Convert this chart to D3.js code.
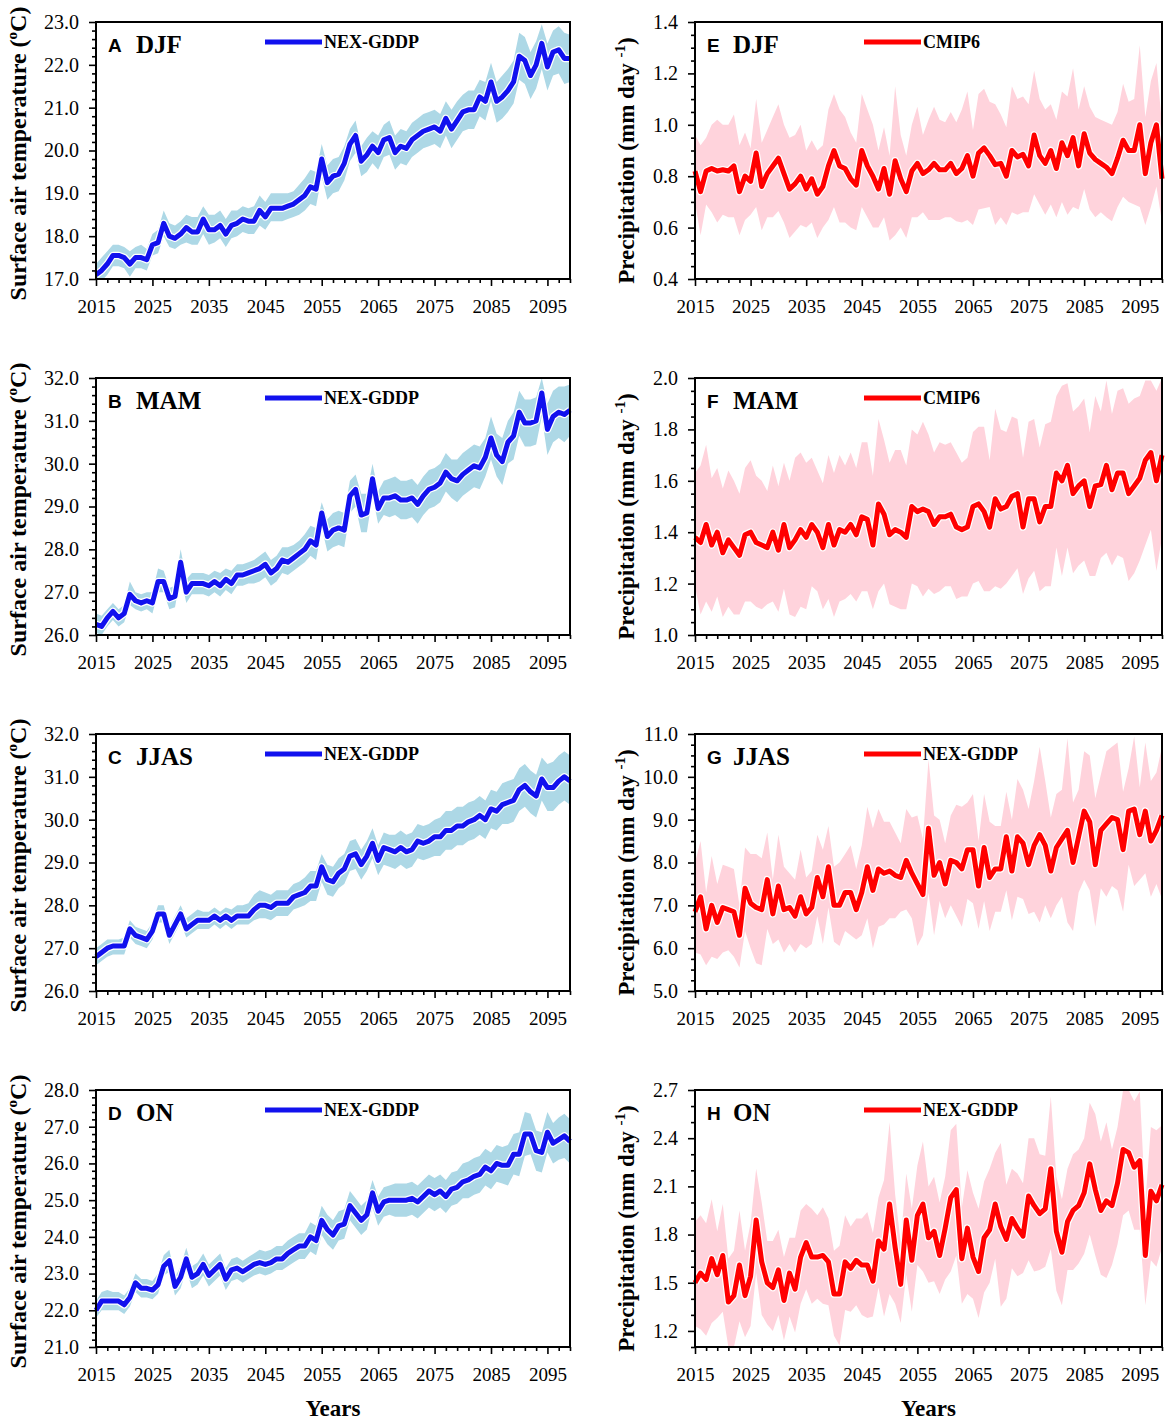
<!DOCTYPE html>
<html>
<head>
<meta charset="utf-8">
<script src="https://cdn.jsdelivr.net/npm/d3@7"></script>
<style>
body { margin: 0; background: #fff; }
svg text { font-family: "Liberation Serif", "Times New Roman", serif; fill: #000; }
</style>
</head>
<body>
<svg id="chart" width="1170" height="1420"></svg>
<script>
// years 2015..2099, one value per year
var years = d3.range(2015, 2100);
var yearTicks = [2015, 2025, 2035, 2045, 2055, 2065, 2075, 2085, 2095];

// ---- surface air temperature (NEX-GDDP), degC ----
var djfTas = [17.1, 17.2, 17.35, 17.55, 17.55, 17.5, 17.35, 17.5, 17.5, 17.45,
  17.8, 17.85, 18.3, 18.0, 17.95, 18.05, 18.2, 18.1, 18.1, 18.4,
  18.15, 18.15, 18.25, 18.05, 18.25, 18.3, 18.4, 18.35, 18.35, 18.6,
  18.45, 18.65, 18.65, 18.65, 18.7, 18.75, 18.85, 18.95, 19.15, 19.1,
  19.8, 19.25, 19.4, 19.45, 19.7, 20.15, 20.35, 19.75, 19.9, 20.1,
  19.95, 20.25, 20.3, 19.95, 20.1, 20.05, 20.25, 20.35, 20.45, 20.5,
  20.55, 20.45, 20.75, 20.5, 20.7, 20.9, 20.95, 20.95, 21.25, 21.15,
  21.6, 21.15, 21.25, 21.4, 21.6, 22.2, 22.1, 21.75, 22.0, 22.5,
  21.95, 22.3, 22.35, 22.15, 22.15];
var djfTasHi = [17.35, 17.5, 17.65, 17.8, 17.8, 17.75, 17.65, 17.75, 17.8, 17.7,
  18.05, 18.15, 18.6, 18.3, 18.25, 18.35, 18.5, 18.45, 18.45, 18.7,
  18.5, 18.5, 18.6, 18.4, 18.6, 18.6, 18.7, 18.65, 18.7, 18.95,
  18.8, 19.0, 19.0, 19.0, 19.0, 19.05, 19.2, 19.35, 19.55, 19.5,
  20.15, 19.65, 19.8, 19.85, 20.1, 20.5, 20.7, 20.1, 20.3, 20.45,
  20.35, 20.6, 20.7, 20.35, 20.5, 20.45, 20.65, 20.75, 20.85, 20.9,
  20.95, 20.85, 21.15, 20.95, 21.15, 21.3, 21.4, 21.4, 21.65, 21.6,
  22.05, 21.6, 21.75, 21.9, 22.1, 22.75, 22.65, 22.3, 22.55, 22.95,
  22.5, 22.8, 22.9, 22.75, 22.7];
var djfTasLo = [16.9, 16.95, 17.1, 17.3, 17.3, 17.25, 17.05, 17.25, 17.25, 17.2,
  17.55, 17.6, 18.0, 17.75, 17.7, 17.8, 17.85, 17.8, 17.8, 18.05,
  17.8, 17.85, 17.95, 17.75, 17.95, 18.0, 18.1, 18.05, 18.05, 18.25,
  18.15, 18.35, 18.35, 18.35, 18.4, 18.45, 18.5, 18.6, 18.75, 18.7,
  19.4, 18.85, 19.0, 19.05, 19.3, 19.75, 19.95, 19.4, 19.5, 19.7,
  19.55, 19.85, 19.9, 19.55, 19.7, 19.65, 19.85, 19.95, 20.05, 20.1,
  20.15, 20.05, 20.35, 20.05, 20.25, 20.45, 20.5, 20.5, 20.8, 20.7,
  21.15, 20.65, 20.75, 20.9, 21.1, 21.65, 21.55, 21.2, 21.45, 21.9,
  21.4, 21.75, 21.8, 21.55, 21.6];

var mamTas = [26.25, 26.2, 26.4, 26.55, 26.4, 26.5, 26.95, 26.8, 26.75, 26.8,
  26.75, 27.25, 27.25, 26.85, 26.9, 27.7, 27.0, 27.2, 27.2, 27.2,
  27.15, 27.25, 27.15, 27.3, 27.2, 27.4, 27.4, 27.45, 27.5, 27.55,
  27.65, 27.45, 27.55, 27.75, 27.7, 27.8, 27.9, 28.0, 28.2, 28.1,
  28.85, 28.3, 28.45, 28.5, 28.45, 29.25, 29.4, 28.8, 28.85, 29.65,
  28.95, 29.2, 29.2, 29.25, 29.15, 29.15, 29.2, 29.05, 29.25, 29.4,
  29.45, 29.55, 29.8, 29.65, 29.6, 29.75, 29.85, 29.95, 29.9, 30.15,
  30.6, 30.2, 30.05, 30.5, 30.65, 31.2, 30.95, 30.95, 31.0, 31.65,
  30.8, 31.1, 31.2, 31.15, 31.25];
var mamTasHi = [26.5, 26.45, 26.6, 26.75, 26.6, 26.7, 27.25, 27.0, 26.95, 27.0,
  27.0, 27.55, 27.5, 27.1, 27.15, 28.0, 27.3, 27.45, 27.45, 27.45,
  27.4, 27.5, 27.45, 27.55, 27.5, 27.65, 27.65, 27.7, 27.75, 27.85,
  27.95, 27.75, 27.85, 28.05, 28.05, 28.1, 28.2, 28.35, 28.55, 28.5,
  29.1, 28.7, 28.85, 28.9, 28.85, 29.6, 29.75, 29.3, 29.3, 30.0,
  29.35, 29.6, 29.65, 29.7, 29.6, 29.6, 29.65, 29.5, 29.7, 29.85,
  29.9, 30.0, 30.25, 30.1, 30.1, 30.25, 30.35, 30.45, 30.4, 30.6,
  31.1, 30.7, 30.6, 31.0, 31.2, 31.7, 31.5, 31.5, 31.55, 32.0,
  31.4, 31.7, 31.8, 31.8, 31.85];
var mamTasLo = [26.05, 26.0, 26.2, 26.35, 26.2, 26.3, 26.7, 26.6, 26.55, 26.6,
  26.5, 27.0, 27.0, 26.6, 26.65, 27.4, 26.75, 26.95, 26.95, 26.95,
  26.9, 27.0, 26.9, 27.05, 26.95, 27.15, 27.15, 27.2, 27.2, 27.25,
  27.35, 27.15, 27.25, 27.45, 27.4, 27.5, 27.6, 27.7, 27.85, 27.75,
  28.5, 27.95, 28.05, 28.1, 28.05, 28.85, 29.0, 28.4, 28.4, 29.25,
  28.6, 28.8, 28.75, 28.8, 28.7, 28.7, 28.75, 28.6, 28.8, 28.95,
  29.0, 29.1, 29.35, 29.2, 29.1, 29.25, 29.35, 29.45, 29.4, 29.7,
  30.1, 29.7, 29.5, 30.0, 30.1, 30.65, 30.4, 30.4, 30.45, 31.1,
  30.2, 30.5, 30.6, 30.5, 30.65];

var jjasTas = [26.8, 26.9, 27.0, 27.05, 27.05, 27.05, 27.45, 27.3, 27.25, 27.2,
  27.4, 27.8, 27.8, 27.3, 27.55, 27.8, 27.45, 27.55, 27.65, 27.65,
  27.65, 27.75, 27.65, 27.75, 27.65, 27.75, 27.75, 27.75, 27.9, 28.0,
  28.0, 27.95, 28.05, 28.05, 28.05, 28.2, 28.25, 28.3, 28.45, 28.45,
  28.9, 28.6, 28.55, 28.75, 28.85, 29.15, 29.2, 28.95, 29.15, 29.45,
  29.05, 29.35, 29.3, 29.25, 29.35, 29.25, 29.3, 29.5, 29.45, 29.5,
  29.6, 29.6, 29.75, 29.75, 29.85, 29.85, 29.95, 30.0, 30.1, 30.0,
  30.25, 30.2, 30.35, 30.4, 30.45, 30.7, 30.8, 30.65, 30.55, 30.95,
  30.75, 30.75, 30.9, 31.0, 30.9];
var jjasTasHi = [27.0, 27.1, 27.2, 27.2, 27.2, 27.25, 27.65, 27.5, 27.45, 27.4,
  27.6, 28.0, 28.0, 27.5, 27.75, 28.0, 27.7, 27.8, 27.9, 27.85,
  27.85, 27.95, 27.85, 27.95, 27.9, 28.0, 28.0, 28.05, 28.25, 28.35,
  28.3, 28.25, 28.35, 28.35, 28.35, 28.5, 28.55, 28.65, 28.8, 28.8,
  29.2, 28.95, 28.9, 29.1, 29.2, 29.5, 29.55, 29.3, 29.5, 29.8,
  29.4, 29.7, 29.65, 29.65, 29.75, 29.65, 29.7, 29.9, 29.85, 29.9,
  30.0, 30.05, 30.2, 30.2, 30.3, 30.3, 30.4, 30.45, 30.55, 30.45,
  30.7, 30.65, 30.85, 30.9, 30.95, 31.2, 31.3, 31.15, 31.05, 31.45,
  31.3, 31.35, 31.5, 31.6, 31.5];
var jjasTasLo = [26.6, 26.7, 26.8, 26.85, 26.85, 26.85, 27.25, 27.1, 27.05, 27.0,
  27.2, 27.6, 27.6, 27.1, 27.35, 27.6, 27.25, 27.35, 27.45, 27.45,
  27.45, 27.55, 27.45, 27.55, 27.45, 27.55, 27.55, 27.55, 27.65, 27.7,
  27.7, 27.65, 27.75, 27.75, 27.75, 27.9, 27.95, 28.0, 28.1, 28.1,
  28.55, 28.25, 28.2, 28.4, 28.5, 28.8, 28.85, 28.6, 28.8, 29.1,
  28.7, 28.95, 28.9, 28.85, 28.95, 28.85, 28.9, 29.1, 29.05, 29.1,
  29.15, 29.15, 29.3, 29.3, 29.4, 29.4, 29.5, 29.55, 29.65, 29.55,
  29.8, 29.75, 29.9, 29.9, 29.95, 30.2, 30.3, 30.15, 30.05, 30.45,
  30.2, 30.2, 30.35, 30.45, 30.35];

var onTas = [22.0, 22.25, 22.25, 22.25, 22.25, 22.15, 22.35, 22.75, 22.6, 22.6,
  22.55, 22.7, 23.2, 23.35, 22.65, 22.9, 23.4, 22.9, 23.0, 23.25,
  22.95, 23.1, 23.25, 22.85, 23.1, 23.15, 23.05, 23.15, 23.25, 23.3,
  23.25, 23.3, 23.4, 23.4, 23.55, 23.65, 23.75, 23.75, 24.0, 23.9,
  24.45, 24.2, 24.05, 24.3, 24.35, 24.85, 24.65, 24.45, 24.6, 25.2,
  24.7, 24.95, 25.0, 25.0, 25.0, 25.0, 25.05, 24.95, 25.1, 25.25,
  25.15, 25.25, 25.1, 25.3, 25.35, 25.5, 25.55, 25.65, 25.7, 25.9,
  25.8, 26.0, 25.95, 25.95, 26.25, 26.25, 26.8, 26.8, 26.35, 26.3,
  26.85, 26.55, 26.65, 26.75, 26.6];
var onTasHi = [22.25, 22.5, 22.55, 22.5, 22.5, 22.4, 22.6, 23.0, 22.85, 22.85,
  22.8, 23.0, 23.5, 23.65, 22.9, 23.2, 23.7, 23.2, 23.3, 23.55,
  23.25, 23.4, 23.55, 23.15, 23.4, 23.45, 23.35, 23.45, 23.55, 23.65,
  23.6, 23.65, 23.75, 23.75, 23.9, 24.0, 24.1, 24.1, 24.4, 24.3,
  24.85, 24.6, 24.45, 24.7, 24.75, 25.25, 25.05, 24.85, 25.0, 25.55,
  25.1, 25.35, 25.4, 25.45, 25.45, 25.45, 25.5, 25.4, 25.55, 25.7,
  25.6, 25.7, 25.55, 25.75, 25.8, 26.0, 26.05, 26.15, 26.2, 26.4,
  26.3, 26.5, 26.45, 26.5, 26.8, 26.85, 27.4, 27.35, 26.9, 26.85,
  27.4, 27.1, 27.25, 27.35, 27.2];
var onTasLo = [21.8, 22.0, 22.0, 22.0, 22.0, 21.9, 22.1, 22.5, 22.35, 22.35,
  22.3, 22.45, 22.95, 23.05, 22.4, 22.6, 23.1, 22.6, 22.7, 22.95,
  22.65, 22.8, 22.95, 22.55, 22.8, 22.85, 22.75, 22.85, 22.95, 23.0,
  22.95, 23.0, 23.1, 23.1, 23.2, 23.3, 23.4, 23.4, 23.6, 23.5,
  24.05, 23.8, 23.65, 23.9, 23.95, 24.45, 24.25, 24.05, 24.2, 24.8,
  24.3, 24.55, 24.6, 24.55, 24.55, 24.55, 24.6, 24.5, 24.65, 24.8,
  24.7, 24.8, 24.65, 24.85, 24.9, 25.05, 25.05, 25.15, 25.2, 25.4,
  25.3, 25.5, 25.45, 25.4, 25.7, 25.65, 26.2, 26.25, 25.8, 25.75,
  26.3, 26.0, 26.1, 26.15, 26.0];

// ---- precipitation, mm/day ----
var djfPr = [0.82, 0.74, 0.82, 0.83, 0.82, 0.825, 0.82, 0.84, 0.74, 0.80,
  0.78, 0.89, 0.76, 0.81, 0.84, 0.87, 0.81, 0.75, 0.77, 0.80,
  0.75, 0.79, 0.73, 0.76, 0.84, 0.90, 0.84, 0.83, 0.79, 0.765,
  0.90, 0.84, 0.80, 0.75, 0.83, 0.73, 0.86, 0.79, 0.74, 0.82,
  0.85, 0.81, 0.825, 0.85, 0.825, 0.825, 0.85, 0.81, 0.83, 0.88,
  0.80, 0.89, 0.91, 0.88, 0.845, 0.85, 0.80, 0.90, 0.875, 0.885,
  0.84, 0.96, 0.88, 0.85, 0.90, 0.83, 0.93, 0.88, 0.95, 0.84,
  0.965, 0.89, 0.865, 0.85, 0.835, 0.81, 0.87, 0.94, 0.90, 0.90,
  1.00, 0.81, 0.93, 1.00, 0.79];
var djfPrHi = [0.96, 0.92, 0.95, 1.00, 1.02, 1.00, 1.00, 1.04, 0.92, 0.97,
  0.91, 1.10, 0.93, 0.98, 1.03, 1.08, 1.00, 0.95, 0.96, 1.00,
  0.90, 0.94, 0.90, 0.92, 1.06, 1.12, 1.06, 1.03, 0.97, 0.93,
  1.12, 1.06, 1.00, 0.90, 0.99, 0.88, 1.15, 0.96, 0.88, 1.00,
  1.07, 0.96, 1.02, 1.07, 1.02, 1.01, 1.05, 1.01, 1.06, 1.13,
  0.98, 1.12, 1.14, 1.09, 1.08, 1.04, 0.99, 1.15, 1.10, 1.11,
  1.08, 1.21, 1.10, 1.06, 1.08, 1.02, 1.13, 1.11, 1.22, 1.06,
  1.15, 1.07, 1.03, 1.02, 1.01, 1.00, 1.05, 1.16, 1.09, 1.10,
  1.31, 1.03, 1.17, 1.24, 1.00];
var djfPrLo = [0.70, 0.57, 0.69, 0.66, 0.62, 0.65, 0.64, 0.64, 0.57, 0.63,
  0.65, 0.68, 0.59, 0.64, 0.64, 0.665, 0.62, 0.56, 0.585, 0.61,
  0.60, 0.62, 0.56, 0.60, 0.63, 0.68, 0.62, 0.62, 0.60, 0.59,
  0.68, 0.64, 0.60, 0.60, 0.64, 0.55, 0.57, 0.60, 0.56, 0.64,
  0.64, 0.66, 0.63, 0.63, 0.63, 0.64, 0.64, 0.625, 0.62, 0.63,
  0.61, 0.67, 0.675, 0.68, 0.61, 0.64, 0.61, 0.66, 0.65, 0.66,
  0.66, 0.73, 0.69, 0.65, 0.69, 0.64, 0.70, 0.65, 0.68, 0.67,
  0.75, 0.67, 0.64, 0.66, 0.64, 0.625, 0.68, 0.72, 0.70, 0.69,
  0.68, 0.61, 0.68, 0.76, 0.62];

var mamPr = [1.38, 1.36, 1.43, 1.35, 1.40, 1.32, 1.37, 1.34, 1.31, 1.39,
  1.40, 1.36, 1.35, 1.34, 1.40, 1.33, 1.43, 1.34, 1.37, 1.41,
  1.38, 1.43, 1.40, 1.34, 1.43, 1.35, 1.41, 1.40, 1.43, 1.39,
  1.46, 1.45, 1.35, 1.51, 1.47, 1.39, 1.41, 1.40, 1.38, 1.50,
  1.48, 1.49, 1.48, 1.43, 1.46, 1.46, 1.47, 1.42, 1.41, 1.42,
  1.50, 1.51, 1.48, 1.42, 1.53, 1.49, 1.50, 1.54, 1.55, 1.42,
  1.53, 1.53, 1.44, 1.50, 1.50, 1.63, 1.60, 1.66, 1.55, 1.58,
  1.60, 1.50, 1.58, 1.585, 1.66, 1.565, 1.63, 1.63, 1.55, 1.58,
  1.61, 1.68, 1.71, 1.60, 1.70];
var mamPrHi = [1.63, 1.66, 1.74, 1.61, 1.65, 1.57, 1.64, 1.60, 1.55, 1.65,
  1.68, 1.62, 1.60, 1.56, 1.66, 1.58, 1.67, 1.60, 1.69, 1.71,
  1.67, 1.69, 1.64, 1.59, 1.70, 1.63, 1.70, 1.66, 1.71, 1.65,
  1.75, 1.75, 1.62, 1.84, 1.76, 1.67, 1.72, 1.72, 1.66, 1.80,
  1.78, 1.83, 1.78, 1.71, 1.75, 1.74, 1.75, 1.71, 1.67, 1.69,
  1.79, 1.81, 1.81, 1.68, 1.88, 1.80, 1.79, 1.85, 1.84, 1.69,
  1.83, 1.84, 1.73, 1.82, 1.83, 1.93, 1.97, 1.98, 1.87, 1.89,
  1.92, 1.79, 1.93, 1.87, 1.99, 1.86, 1.95, 1.96, 1.90, 1.92,
  1.93, 1.99, 1.99, 1.95, 2.00];
var mamPrLo = [1.19, 1.08, 1.13, 1.09, 1.15, 1.07, 1.11, 1.08, 1.08, 1.13,
  1.13, 1.11, 1.10, 1.12, 1.13, 1.09, 1.18, 1.08, 1.07, 1.11,
  1.10, 1.19, 1.17, 1.10, 1.14, 1.07, 1.13, 1.14, 1.16, 1.13,
  1.17, 1.17, 1.10, 1.17, 1.20, 1.12, 1.11, 1.10, 1.10, 1.20,
  1.19, 1.15, 1.18, 1.16, 1.17, 1.19, 1.19, 1.14, 1.15, 1.15,
  1.20, 1.21, 1.17, 1.17, 1.19, 1.18, 1.20, 1.23, 1.26, 1.16,
  1.22, 1.25, 1.17, 1.19, 1.19, 1.34, 1.23, 1.34, 1.24, 1.27,
  1.29, 1.23, 1.23, 1.30, 1.32, 1.27, 1.31, 1.30, 1.21, 1.24,
  1.29, 1.35, 1.41, 1.25, 1.38];

var jjasPr = [6.85, 7.2, 6.45, 7.0, 6.6, 6.95, 6.9, 6.85, 6.3, 7.4,
  7.05, 6.95, 6.9, 7.6, 6.8, 7.45, 6.9, 6.95, 6.75, 7.2,
  6.8, 6.95, 7.65, 7.2, 7.9, 7.0, 7.0, 7.3, 7.3, 6.9,
  7.3, 7.9, 7.35, 7.85, 7.75, 7.8, 7.7, 7.65, 8.05, 7.75,
  7.5, 7.25, 8.8, 7.7, 8.0, 7.5, 8.05, 8.0, 7.85, 8.3,
  8.3, 7.45, 8.35, 7.65, 7.85, 7.85, 8.6, 7.8, 8.6, 8.45,
  7.95, 8.4, 8.65, 8.4, 7.8, 8.35, 8.55, 8.75, 8.0, 8.6,
  9.2, 8.95, 7.95, 8.75, 8.9, 9.05, 9.0, 8.3, 9.2, 9.25,
  8.65, 9.2, 8.5, 8.75, 9.1];
var jjasPrHi = [8.0, 8.5, 7.3, 8.15, 7.5, 7.95, 7.9, 7.85, 7.0, 8.35,
  8.2, 8.2, 8.1, 8.7, 7.6, 8.65, 7.9, 7.75, 7.6, 8.3,
  7.65, 7.8, 8.65, 8.3, 8.85, 7.9, 8.0, 8.2, 8.4, 7.85,
  8.4, 9.3, 8.8, 9.25, 8.95, 8.95, 8.7, 8.45, 9.25, 9.05,
  9.1, 8.55, 10.4, 9.1, 9.0, 8.45, 9.1, 9.35, 9.3, 9.4,
  9.6, 8.5, 9.6, 8.95, 8.85, 8.85, 9.65, 9.0, 9.95, 9.7,
  9.25, 9.9, 10.7, 9.9, 9.05, 9.6, 9.7, 10.9, 9.4, 9.7,
  10.6, 10.5, 9.5, 10.05, 10.6, 10.7, 10.8, 9.65, 10.2, 10.95,
  9.75, 10.8, 9.9, 10.1, 10.7];
var jjasPrLo = [5.9, 5.85, 5.6, 5.8, 5.75, 5.9, 5.95, 5.8, 5.55, 6.4,
  6.0, 5.65, 5.6, 6.45, 6.1, 6.2, 5.9, 6.1, 5.9, 6.1,
  6.0, 6.1, 6.75, 6.1, 6.95, 6.15, 6.05, 6.4, 6.3, 6.2,
  6.3, 6.7, 6.0, 6.5, 6.55, 6.7, 6.7, 6.85, 6.9, 6.7,
  6.05, 6.3, 7.3, 6.3, 7.1, 6.7, 7.0, 6.75, 6.5, 7.15,
  7.05, 6.45, 7.1, 6.4, 6.85, 6.85, 7.35, 6.65, 7.2, 7.15,
  6.8, 6.85, 6.6, 7.0, 6.7, 7.0, 7.2, 6.6, 6.4, 7.3,
  7.6, 7.35, 6.5, 7.4, 7.2, 7.45, 7.35, 6.85, 7.95, 7.45,
  7.6, 7.75, 7.2, 7.5, 7.15];

var onPr = [1.50, 1.56, 1.52, 1.65, 1.55, 1.67, 1.38, 1.42, 1.61, 1.42,
  1.54, 1.89, 1.63, 1.50, 1.47, 1.58, 1.39, 1.56, 1.46, 1.66,
  1.75, 1.66, 1.66, 1.67, 1.63, 1.43, 1.43, 1.63, 1.59, 1.64,
  1.61, 1.61, 1.51, 1.76, 1.71, 1.99, 1.72, 1.49, 1.89, 1.64,
  1.92, 1.99, 1.78, 1.82, 1.67, 1.84, 2.03, 2.08, 1.65, 1.84,
  1.66, 1.57, 1.78, 1.83, 1.99, 1.85, 1.77, 1.90, 1.84, 1.79,
  2.04, 1.98, 1.93, 1.96, 2.21, 1.82, 1.69, 1.88, 1.95, 1.98,
  2.06, 2.24, 2.08, 1.95, 2.01, 1.98, 2.12, 2.33, 2.31, 2.22,
  2.26, 1.67, 2.07, 2.01, 2.11];
var onPrHi = [1.88, 1.92, 1.87, 2.02, 1.82, 1.99, 1.65, 1.70, 1.95, 1.70,
  1.87, 2.21, 2.00, 1.76, 1.76, 1.83, 1.66, 1.78, 1.78, 1.95,
  1.99, 1.96, 1.92, 1.97, 1.90, 1.70, 1.73, 1.92, 1.85, 1.90,
  1.90, 1.94, 1.81, 2.03, 2.14, 2.50, 2.05, 1.75, 2.18, 1.96,
  2.23, 2.38, 2.10, 2.16, 2.00, 2.16, 2.45, 2.49, 1.97, 2.20,
  2.06, 1.96, 2.13, 2.21, 2.31, 2.37, 2.11, 2.21, 2.18, 2.12,
  2.40, 2.40, 2.30, 2.29, 2.66, 2.16, 2.02, 2.21, 2.30, 2.33,
  2.40, 2.62, 2.55, 2.38, 2.50, 2.33, 2.47, 2.70, 2.70, 2.63,
  2.69, 2.00, 2.47, 2.45, 2.48];
var onPrLo = [1.23, 1.21, 1.17, 1.25, 1.28, 1.32, 1.10, 1.10, 1.26, 1.16,
  1.23, 1.56, 1.30, 1.24, 1.20, 1.30, 1.14, 1.29, 1.19, 1.37,
  1.46, 1.37, 1.40, 1.37, 1.36, 1.17, 1.11, 1.33, 1.32, 1.36,
  1.30, 1.28, 1.29, 1.47, 1.29, 1.43, 1.37, 1.25, 1.55, 1.32,
  1.61, 1.57, 1.50, 1.51, 1.43, 1.52, 1.57, 1.67, 1.37, 1.43,
  1.40, 1.28, 1.44, 1.50, 1.65, 1.35, 1.40, 1.59, 1.54, 1.56,
  1.64, 1.57, 1.58, 1.60, 1.71, 1.45, 1.36, 1.58, 1.58, 1.62,
  1.68, 1.80, 1.67, 1.55, 1.53, 1.61, 1.74, 1.92, 1.95, 1.83,
  1.83, 1.36, 1.64, 1.60, 1.72];

// y tick labels per panel
var tasTicksA = [17, 18, 19, 20, 21, 22, 23];
var tasTicksB = [26, 27, 28, 29, 30, 31, 32];
var tasTicksC = [26, 27, 28, 29, 30, 31, 32];
var tasTicksD = [21, 22, 23, 24, 25, 26, 27, 28];
var prTicksE = [0.4, 0.6, 0.8, 1.0, 1.2, 1.4];
var prTicksF = [1.0, 1.2, 1.4, 1.6, 1.8, 2.0];
var prTicksG = [5, 6, 7, 8, 9, 10, 11];
var prTicksH = [1.2, 1.5, 1.8, 2.1, 2.4, 2.7];

var panels = [
  {letter: "A", season: "DJF", col: 0, row: 0, mean: djfTas, lo: djfTasLo, hi: djfTasHi, legend: "NEX-GDDP", ticks: tasTicksA, domain: [17, 23], minor: 0.2},
  {letter: "B", season: "MAM", col: 0, row: 1, mean: mamTas, lo: mamTasLo, hi: mamTasHi, legend: "NEX-GDDP", ticks: tasTicksB, domain: [26, 32], minor: 0.2},
  {letter: "C", season: "JJAS", col: 0, row: 2, mean: jjasTas, lo: jjasTasLo, hi: jjasTasHi, legend: "NEX-GDDP", ticks: tasTicksC, domain: [26, 32], minor: 0.2},
  {letter: "D", season: "ON", col: 0, row: 3, mean: onTas, lo: onTasLo, hi: onTasHi, legend: "NEX-GDDP", ticks: tasTicksD, domain: [21, 28], minor: 0.2},
  {letter: "E", season: "DJF", col: 1, row: 0, mean: djfPr, lo: djfPrLo, hi: djfPrHi, legend: "CMIP6", ticks: prTicksE, domain: [0.4, 1.4], minor: 0.05},
  {letter: "F", season: "MAM", col: 1, row: 1, mean: mamPr, lo: mamPrLo, hi: mamPrHi, legend: "CMIP6", ticks: prTicksF, domain: [1.0, 2.0], minor: 0.05},
  {letter: "G", season: "JJAS", col: 1, row: 2, mean: jjasPr, lo: jjasPrLo, hi: jjasPrHi, legend: "NEX-GDDP", ticks: prTicksG, domain: [5, 11], minor: 0.25},
  {letter: "H", season: "ON", col: 1, row: 3, mean: onPr, lo: onPrLo, hi: onPrHi, legend: "NEX-GDDP", ticks: prTicksH, domain: [1.1, 2.7], minor: 0.1}
];

var colLeft = [96, 695],
    colWidth = [474, 467],
    rowTop = [22, 378, 734, 1090],
    ph = 257;

var lineColor = ["#1111ee", "#ff0000"],
    bandColor = ["#add8e6", "#ffd3dc"];

var svg = d3.select("#chart");

panels.forEach(function(p, i) {
  var left = colLeft[p.col], top = rowTop[p.row], w = colWidth[p.col];

  var x = d3.scaleLinear().domain([2015, 2099]).range([0, w]),
      y = d3.scaleLinear().domain(p.domain).range([ph, 0]);

  var g = svg.append("g").attr("transform", "translate(" + left + "," + top + ")");

  g.append("clipPath").attr("id", "clip" + i)
    .append("rect").attr("width", w).attr("height", ph);

  var area = d3.area()
      .x(function(d, j) { return x(years[j]); })
      .y0(function(d, j) { return y(p.lo[j]); })
      .y1(function(d, j) { return y(p.hi[j]); });

  var line = d3.line()
      .x(function(d, j) { return x(years[j]); })
      .y(function(d) { return y(d); });

  g.append("path")
      .datum(p.mean)
      .attr("clip-path", "url(#clip" + i + ")")
      .attr("d", area)
      .attr("fill", bandColor[p.col]);

  // white halo under the mean line
  g.append("path")
      .datum(p.mean)
      .attr("d", line)
      .attr("fill", "none")
      .attr("stroke", "#fff")
      .attr("stroke-width", 7.5)
      .attr("stroke-linejoin", "round");

  g.append("path")
      .datum(p.mean)
      .attr("d", line)
      .attr("fill", "none")
      .attr("stroke", lineColor[p.col])
      .attr("stroke-width", 5)
      .attr("stroke-linejoin", "round");

  // axes
  var yMinor = d3.range(p.domain[0], p.domain[1] + 1e-6, p.minor).filter(function(v) {
    return !p.ticks.some(function(t) { return Math.abs(t - v) < 1e-6; });
  });
  var xMinor = d3.range(2015, 2100, 2).filter(function(v) { return yearTicks.indexOf(v) < 0; });

  var gy = g.append("g")
      .call(d3.axisLeft(y).tickValues(p.ticks).tickSize(7).tickPadding(10).tickFormat(d3.format(".1f")));
  var gym = g.append("g")
      .call(d3.axisLeft(y).tickValues(yMinor).tickSize(4).tickFormat(""));
  var gx = g.append("g")
      .attr("transform", "translate(0," + ph + ")")
      .call(d3.axisBottom(x).tickValues(yearTicks).tickSize(7).tickPadding(14).tickFormat(d3.format("d")));
  var gxm = g.append("g")
      .attr("transform", "translate(0," + ph + ")")
      .call(d3.axisBottom(x).tickValues(xMinor).tickSize(4).tickFormat(""));

  [gy, gym, gx, gxm].forEach(function(a) {
    a.select(".domain").remove();
    a.selectAll(".tick line").attr("stroke", "#000").attr("stroke-width", 1.6);
  });
  gy.selectAll(".tick text").style("font-size", "20px");
  gx.selectAll(".tick text").style("font-size", "19px");

  g.append("rect")
      .attr("width", w).attr("height", ph)
      .attr("fill", "none")
      .attr("stroke", "#000")
      .attr("stroke-width", 2);

  // panel labels
  g.append("text")
      .attr("x", 12).attr("y", 30)
      .style("font-family", "'Liberation Sans', Arial, sans-serif")
      .style("font-weight", "bold").style("font-size", "19px")
      .text(p.letter);
  g.append("text")
      .attr("x", p.col === 0 ? 40 : 38).attr("y", 31)
      .style("font-weight", "bold").style("font-size", "25px")
      .text(p.season);

  // legend
  g.append("line")
      .attr("x1", 169).attr("x2", 226).attr("y1", 20).attr("y2", 20)
      .attr("stroke", lineColor[p.col]).attr("stroke-width", 5);
  g.append("text")
      .attr("x", 228).attr("y", 26)
      .style("font-weight", "bold").style("font-size", "18px")
      .text(p.legend);

  // y axis title
  var yt = g.append("text")
      .attr("transform", p.col === 0
        ? "translate(-70," + (ph / 2 + 3) + ") rotate(-90)"
        : "translate(-61," + (ph / 2 + 10) + ") rotate(-90)")
      .attr("text-anchor", "middle")
      .style("font-weight", "bold").style("font-size", p.col === 0 ? "24px" : "23px");
  if (p.col === 0) {
    yt.append("tspan").text("Surface air temperature (");
    yt.append("tspan").attr("dy", -9).style("font-size", "15px").text("o");
    yt.append("tspan").attr("dy", 9).text("C)");
  } else {
    yt.append("tspan").text("Precipitation (mm day ");
    yt.append("tspan").attr("dy", -9).style("font-size", "15px").text("-1");
    yt.append("tspan").attr("dy", 9).text(")");
  }

  if (p.row === 3) {
    g.append("text")
      .attr("x", w / 2).attr("y", ph + 69)
      .attr("text-anchor", "middle")
      .style("font-weight", "bold").style("font-size", "23px")
      .text("Years");
  }
});
</script>
</body>
</html>
